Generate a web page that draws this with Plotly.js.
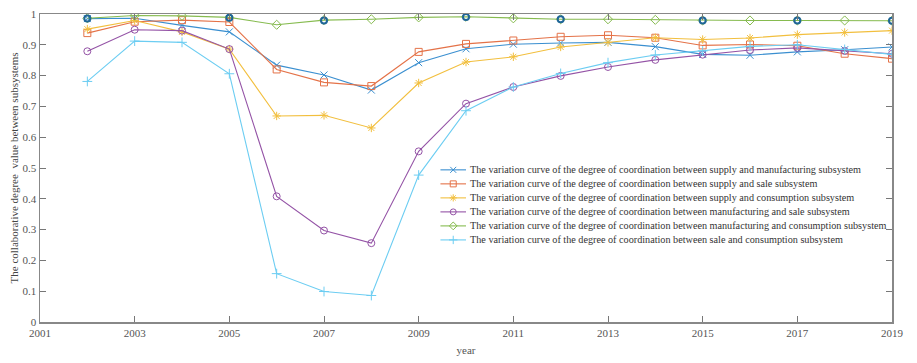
<!DOCTYPE html>
<html>
<head>
<meta charset="utf-8">
<script src="https://cdn.plot.ly/plotly-3.0.1.min.js"></script>
<style>html,body{margin:0;padding:0;background:#fff;}#chart{width:917px;height:363px;}</style>
</head>
<body>
<div id="chart"></div>
<script>
const years = [2002,2003,2004,2005,2006,2007,2008,2009,2010,2011,2012,2013,2014,2015,2016,2017,2018,2019];

const supplyManufacturing = [0.985,0.986,0.963,0.942,0.834,0.802,0.753,0.842,0.887,0.902,0.906,0.908,0.894,0.869,0.866,0.877,0.884,0.893];
const supplySale          = [0.938,0.975,0.980,0.974,0.820,0.778,0.766,0.877,0.903,0.914,0.926,0.931,0.923,0.898,0.901,0.897,0.871,0.855];
const supplyConsumption   = [0.951,0.979,0.942,0.886,0.669,0.671,0.630,0.776,0.844,0.861,0.893,0.908,0.923,0.917,0.922,0.933,0.940,0.946];
const manufacturingSale   = [0.879,0.949,0.946,0.886,0.408,0.297,0.256,0.554,0.709,0.763,0.799,0.828,0.851,0.868,0.883,0.890,0.880,0.871];
const manufacturingConsumption = [0.986,0.995,0.994,0.989,0.965,0.980,0.983,0.989,0.991,0.986,0.983,0.983,0.981,0.979,0.979,0.979,0.979,0.978];
const saleConsumption     = [0.781,0.912,0.908,0.806,0.157,0.099,0.086,0.477,0.686,0.763,0.807,0.842,0.867,0.880,0.895,0.900,0.885,0.869];

const overlayYears  = [2002,2005,2007,2010,2012,2015,2017,2019];
const overlayValues = [0.985,0.988,0.979,0.990,0.983,0.979,0.979,0.978];

const seriesNames = [
  "The variation curve of the degree of coordination between supply and manufacturing subsystem",
  "The variation curve of the degree of coordination between supply and sale subsystem",
  "The variation curve of the degree of coordination between supply and consumption subsystem",
  "The variation curve of the degree of coordination between manufacturing and sale subsystem",
  "The variation curve of the degree of coordination between manufacturing and consumption subsystem",
  "The variation curve of the degree of coordination between sale and consumption subsystem"
];
const xTicks = [2001,2003,2005,2007,2009,2011,2013,2015,2017,2019];
const yTicks = [0,0.1,0.2,0.3,0.4,0.5,0.6,0.7,0.8,0.9,1];
const yTickText = ["0","0.1","0.2","0.3","0.4","0.5","0.6","0.7","0.8","0.9","1"];

const seriesValues = [supplyManufacturing, supplySale, supplyConsumption, manufacturingSale, manufacturingConsumption, saleConsumption];
const colors = ["#3a8fd0","#e47248","#f2bf3e","#9453a6","#86bb4f","#6ccdf2"];
const symbols = ["x-thin-open","square-open","asterisk-open","circle-open","diamond-open","cross-thin-open"];

const traces = seriesValues.map((vals, i) => ({
  x: years, y: vals, name: seriesNames[i], type: "scatter", mode: "lines+markers", showlegend: false,
  line: {color: colors[i], width: 1.1},
  marker: {symbol: symbols[i], size: 7, color: colors[i], line: {color: colors[i], width: 1}}
}));
traces.push({
  x: overlayYears, y: overlayValues, type: "scatter", mode: "markers", showlegend: false,
  marker: {symbol: "circle-open", size: 6, color: "#1f6698", line: {color: "#1f6698", width: 2}}
});

// Custom compact legend (paper-fraction overlay axes)
const legX0 = 0.470, legX1 = 0.500, legTextX = 0.502;
const legY0 = 0.494, legStep = 0.0455;
const annotations = [];
seriesNames.forEach((name, i) => {
  const yy = legY0 - i * legStep;
  traces.push({
    x: [legX0, legX1], y: [yy, yy], xaxis: "x2", yaxis: "y2", type: "scatter", mode: "lines",
    showlegend: false, hoverinfo: "skip", line: {color: colors[i], width: 1.1}
  });
  traces.push({
    x: [(legX0 + legX1) / 2], y: [yy], xaxis: "x2", yaxis: "y2", type: "scatter", mode: "markers",
    showlegend: false, hoverinfo: "skip",
    marker: {symbol: symbols[i], size: 6, color: colors[i], line: {color: colors[i], width: 1}}
  });
  annotations.push({
    xref: "paper", yref: "paper", x: legTextX, y: yy, xanchor: "left", yanchor: "middle",
    text: name, showarrow: false,
    font: {family: "Liberation Serif", size: 10.2, color: "#333"}
  });
});

const axisFont = {family: "Liberation Serif", size: 11, color: "#555"};
const layout = {
  width: 917, height: 363,
  margin: {l: 40, r: 25, t: 14, b: 41},
  paper_bgcolor: "#fff", plot_bgcolor: "#fff",
  showlegend: false,
  font: axisFont,
  annotations: annotations,
  xaxis: {
    range: [2001, 2019], tickmode: "array",
    tickvals: xTicks, ticktext: xTicks.map(String),
    ticks: "inside", ticklen: 6, tickcolor: "#777", tickwidth: 1,
    showline: true, linecolor: "#888", linewidth: 1.5, mirror: "allticks",
    showgrid: false, zeroline: false,
    tickfont: axisFont,
    title: {text: "year", font: {family: "Liberation Serif", size: 11, color: "#555"}, standoff: 8}
  },
  yaxis: {
    range: [0, 1], tickmode: "array",
    tickvals: yTicks, ticktext: yTickText,
    ticks: "inside", ticklen: 6, tickcolor: "#777", tickwidth: 1,
    showline: true, linecolor: "#888", linewidth: 1.5, mirror: "allticks",
    showgrid: false, zeroline: false,
    tickfont: axisFont,
    title: {text: "The collaborative degree  value between subsystems", font: {family: "Liberation Serif", size: 11, color: "#444"}, standoff: 1}
  },
  xaxis2: {range: [0, 1], overlaying: "x", visible: false, fixedrange: true},
  yaxis2: {range: [0, 1], overlaying: "y", visible: false, fixedrange: true}
};

Plotly.newPlot("chart", traces, layout, {displayModeBar: false, staticPlot: true});
</script>
</body>
</html>
